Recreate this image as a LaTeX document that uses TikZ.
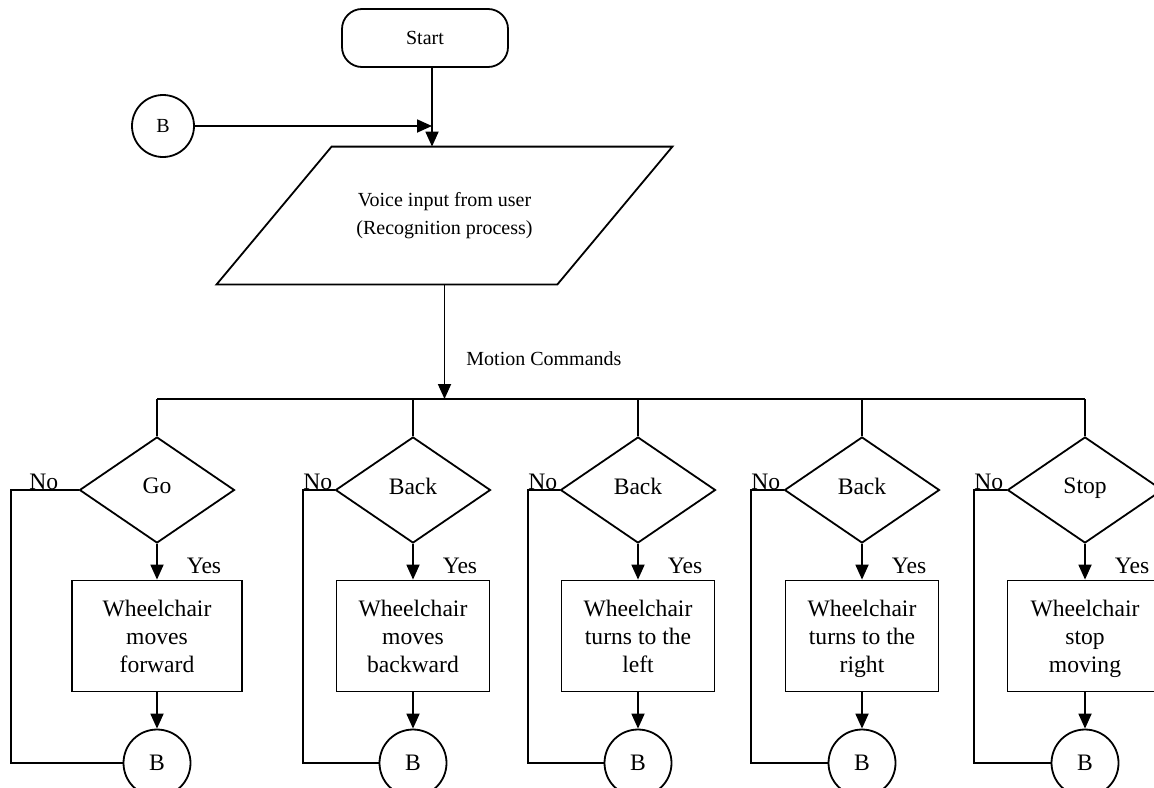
\documentclass[tikz,border=0pt]{standalone}
\usepackage{fontspec}
\setmainfont{Liberation Serif}
\usetikzlibrary{shapes.geometric}
\usetikzlibrary{arrows.meta}

\tikzset{
	line/.style={line width=0.9pt},
	arr/.style={line, -{Triangle[length=7.5pt,width=6.5pt]}},
	bigtext/.style={font=\fontsize{11.8}{14}\selectfont},
	smalltext/.style={font=\fontsize{10}{14}\selectfont},
	terminal/.style={draw, line, rectangle, rounded corners=10pt, minimum width=83pt, minimum height=29pt, smalltext},
	inputbox/.style={rectangle, minimum width=170pt, minimum height=68.5pt, align=center, smalltext},
	decision/.style={draw, line, diamond, inner sep=0pt, minimum width=77.5pt, minimum height=53pt, bigtext},
	action/.style={draw, line, rectangle, minimum height=55.5pt, align=center, inner sep=2pt, text depth=0pt, bigtext},
	connector/.style={draw, line, circle, inner sep=0pt, minimum size=33.5pt, bigtext},
	lbl/.style={inner sep=0pt, bigtext}
}

\newcommand{\branch}[7] % name, x in px, loop x in px, shift of No in pt, box width, question, action
{
	\coordinate (#1top) at (#2,399);
	\node[decision] (#1q) at (#2,490) {\raisebox{4pt}{#6}};
	\node[action, minimum width=#5] (#1a) at (#2,636) {#7};
	\node[connector] (#1b) at (#2,763) {B};
	\coordinate (#1loop) at (#3,490);
	% down from the bus
	\draw[line] (#1top) -- (#1q.north);
	\draw[arr] (#1q.south) -- (#1a.north);
	\draw[arr] (#1a.south) -- (#1b.north);
	% no branch
	\draw[line] (#1q.west) -- (#1loop) |- (#1b.west);
	\node[lbl, anchor=south west, xshift=#4] (#1no) at (#1loop) {No};
	\node[lbl] (#1yes) at (#2+47,566) {Yes};
}

\begin{document}
\begin{tikzpicture}[x=0.5pt, y=-0.5pt]
	% 1154 x 787 px, 1 px = 0.5 pt
	\useasboundingbox (0,0) rectangle (1154,787);
	\clip (0,0) rectangle (1154,787);
	
	\node[terminal] (start) at (425,38) {Start};
	\node[connector, minimum size=31pt, smalltext] (btop) at (163,126) {B};
	\coordinate (join) at (432,126);
	\node[inputbox] (input) at (444.5,215.5) {Voice input from user\\(Recognition process)};
	% parallelogram round the input text
	\draw[line] ([xshift=28.75pt]input.north west) -- ([xshift=28.75pt]input.north east)
		-- ([xshift=-28.75pt]input.south east) -- ([xshift=-28.75pt]input.south west) -- cycle;
	
	\draw[arr] (btop.east) -- (join);
	\draw[arr] (start.south -| join) -- (input.north -| join);
	
	\branch{c1}{157}{11}{9}{85pt}{Go}{Wheelchair\\moves\\forward};
	\branch{c2}{413}{303}{0}{76.5pt}{Back}{Wheelchair\\moves\\backward};
	\branch{c3}{638}{528}{0}{76.5pt}{Back}{Wheelchair\\turns to the\\left};
	\branch{c4}{862}{751}{0}{76.5pt}{Back}{Wheelchair\\turns to the\\right};
	\branch{c5}{1085}{974}{0}{77.5pt}{Stop}{Wheelchair\\stop\\moving};
	
	\draw[line] (c1top) -- (c5top);
	\draw[arr] (input.south) -- (input.south |- c1top);
	\node[smalltext, anchor=west, inner sep=0pt] (motion) at (466,359) {Motion Commands};
	
\end{tikzpicture}
\end{document}
